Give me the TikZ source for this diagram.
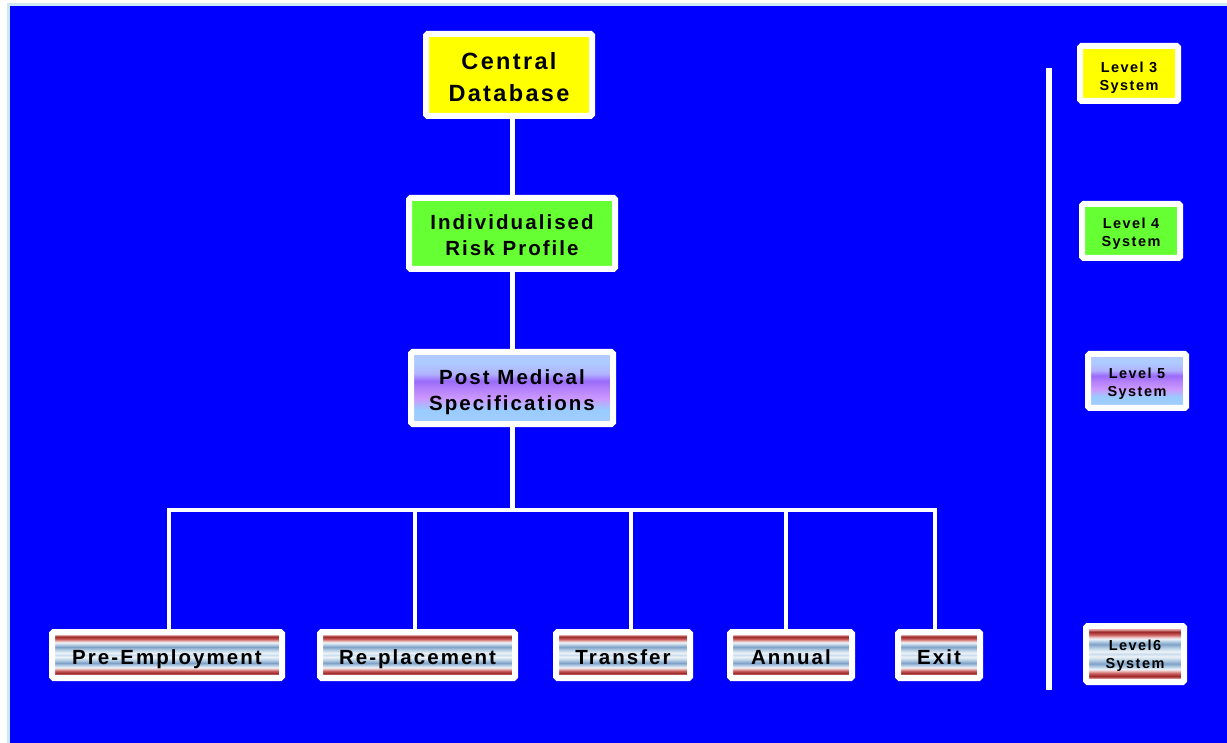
\documentclass[tikz,border=0pt]{standalone}
\usepackage{fontspec}
\newfontfamily\labelfont[LetterSpace=10]{Liberation Sans}
% invisible rule that lowers a stacked label inside its box
\newcommand\liftline[1]{\rule{0pt}{#1pt}}

% red/blue striped fill used by the screening boxes
\pgfdeclareverticalshading{stripes}{100bp}{%
  rgb(0bp)=(.88,.6,.6);
  rgb(28.3bp)=(.88,.6,.6);
  rgb(30bp)=(.6,.15,.15);
  rgb(32.6bp)=(.78,.35,.35);
  rgb(34.8bp)=(.92,.72,.72);
  rgb(36.4bp)=(.94,.96,.98);
  rgb(38.6bp)=(.72,.82,.9);
  rgb(41.3bp)=(.5,.63,.78);
  rgb(44.6bp)=(.72,.82,.9);
  rgb(47.8bp)=(.93,.95,.97);
  rgb(50bp)=(.8,.87,.93);
  rgb(52.2bp)=(.93,.95,.97);
  rgb(55.4bp)=(.72,.82,.9);
  rgb(58.7bp)=(.5,.63,.78);
  rgb(61.4bp)=(.72,.82,.9);
  rgb(63.6bp)=(.94,.96,.98);
  rgb(65.2bp)=(.92,.72,.72);
  rgb(67.4bp)=(.78,.35,.35);
  rgb(70bp)=(.6,.15,.15);
  rgb(71.7bp)=(.88,.6,.6);
  rgb(100bp)=(.88,.6,.6)}

% blue/violet fill used by the specification boxes
\pgfdeclareverticalshading{violet}{100bp}{%
  rgb(0bp)=(.65,.8,1);
  rgb(25bp)=(.65,.8,1);
  rgb(35bp)=(.6,.8,1);
  rgb(42.5bp)=(.8,.6,1);
  rgb(50bp)=(.7,.5,.98);
  rgb(55bp)=(.6,.42,.98);
  rgb(60bp)=(.7,.7,1);
  rgb(67.5bp)=(.68,.8,1);
  rgb(75bp)=(.7,.78,1);
  rgb(100bp)=(.7,.78,1)}

\definecolor{pagebg}{RGB}{0,0,255}
\definecolor{rim}{RGB}{207,232,245}
\definecolor{lvlyellow}{RGB}{255,255,0}
\definecolor{lvlgreen}{RGB}{102,255,51}

\begin{document}
\begin{tikzpicture}[x=1pt,y=-1pt,
  box/.style={draw=white, line width=6pt, rounded corners=1.5pt,
    inner sep=0pt, align=center, text=black},
  oneline/.style={text height=23.6pt, text depth=5.1pt},
  bigtext/.style={font=\labelfont\bfseries\fontsize{23.5}{32}\selectfont},
  midtext/.style={font=\labelfont\bfseries\fontsize{20.5}{26}\selectfont},
  smalltext/.style={font=\labelfont\bfseries\fontsize{14.5}{18}\selectfont},
  yellowbox/.style={box, fill=lvlyellow},
  greenbox/.style={box, fill=lvlgreen},
  violetbox/.style={box, shade, shading=violet},
  stripebox/.style={box, shade, shading=stripes},
  stem/.style={draw=white, line width=5pt},
  branch/.style={draw=white, line width=4pt},
  divider/.style={draw=white, line width=6pt}]

% page and backdrop
\useasboundingbox (0,0) rectangle (1227,743);
\fill[white] (0,0) rectangle (1227,743);
\fill[rim] (7,3) rectangle (1227,743);
\fill[pagebg] (10,6) rectangle (1227,743);

% hierarchy
\node[yellowbox, bigtext, minimum width=166, minimum height=82] (central) at (509,75) {\liftline{20.4}Central\\Database};
\node[greenbox, midtext, minimum width=206, minimum height=71] (risk) at (512,233.5) {\liftline{18.2}Individualised\\Risk Profile};
\node[violetbox, midtext, minimum width=202, minimum height=72] (post) at (512,388) {\liftline{24.2}Post Medical\\Specifications};

\node[stripebox, midtext, oneline, minimum width=230, minimum height=46] (pre) at (167,655) {Pre-Employment};
\node[stripebox, midtext, oneline, minimum width=195, minimum height=46] (repl) at (417.5,655) {Re-placement};
\node[stripebox, midtext, oneline, minimum width=134, minimum height=46] (transfer) at (623,655) {Transfer};
\node[stripebox, midtext, oneline, minimum width=122, minimum height=46] (annual) at (791,655) {Annual};
\node[stripebox, midtext, oneline, minimum width=82, minimum height=46] (exit) at (939,655) {Exit};

% connectors
\draw[stem] (risk.north) -- (risk.north |- central.south);
\draw[stem] (post.north) -- (post.north |- risk.south);
\coordinate (busL) at (167,510);
\coordinate (busR) at (937,510);
\draw[stem] (post.south) -- (post.south |- busL);
\draw[branch] (busL) -- (busR);
\coordinate (d1) at (169,510);
\coordinate (d2) at (415,510);
\coordinate (d3) at (631,510);
\coordinate (d4) at (786,510);
\coordinate (d5) at (935,510);
\draw[branch] (d1) -- (d1 |- pre.north);
\draw[branch] (d2) -- (d2 |- repl.north);
\draw[branch] (d3) -- (d3 |- transfer.north);
\draw[branch] (d4) -- (d4 |- annual.north);
\draw[branch] (d5) -- (d5 |- exit.north);

% legend
\coordinate (divT) at (1049,68);
\coordinate (divB) at (1049,690);
\draw[divider] (divT) -- (divB);
\node[yellowbox, smalltext, minimum width=98, minimum height=55] (lv3) at (1129,73.5) {\liftline{18.6}Level 3\\System};
\node[greenbox, smalltext, minimum width=98, minimum height=54] (lv4) at (1131,231) {\liftline{16.6}Level 4\\System};
\node[violetbox, smalltext, minimum width=98, minimum height=54] (lv5) at (1137,381) {\liftline{16.6}Level 5\\System};
\node[stripebox, smalltext, minimum width=98, minimum height=56] (lv6) at (1135,654) {\liftline{14.6}Level6\\System};
\end{tikzpicture}
\end{document}
